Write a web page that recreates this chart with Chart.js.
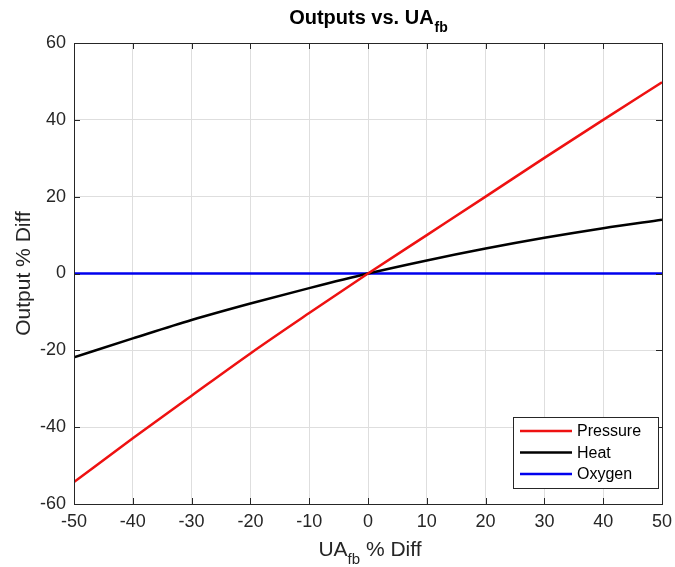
<!DOCTYPE html>
<html>
<head>
<meta charset="utf-8">
<script src="https://cdn.jsdelivr.net/npm/chart.js@4/dist/chart.umd.min.js"></script>
<style>
html,body{margin:0;padding:0;background:#fff;}
#wrap{width:675px;height:567px;position:relative;}
</style>
</head>
<body>
<div id="wrap"><canvas id="c" width="675" height="567"></canvas></div>
<script>
// ---- data ----
const uaDiff = [-50, -40, -30, -20, -10, 0, 10, 20, 30, 40, 50];
const pressure = [-54.3, -42.9, -31.8, -20.8, -10.3, 0, 10.0, 20.0, 30.1, 40.0, 49.8];
const heat = [-21.8, -16.9, -12.1, -7.8, -3.8, 0, 3.4, 6.5, 9.3, 11.8, 14.0];
const oxygen = [0, 0, 0, 0, 0, 0, 0, 0, 0, 0, 0];
const xTicks = [-50, -40, -30, -20, -10, 0, 10, 20, 30, 40, 50];
const yTicks = [-60, -40, -20, 0, 20, 40, 60];
const seriesNames = ['Pressure', 'Heat', 'Oxygen'];
const titleMain = 'Outputs vs. UA';
const titleSub = 'fb';
const xLabelMain = 'UA';
const xLabelSub = 'fb';
const xLabelRest = ' % Diff';
const yLabel = 'Output % Diff';

const FONT = '"Liberation Sans", Arial, Helvetica, sans-serif';
const INK = '#262626';

function pts(ys){ return uaDiff.map((x,i)=>({x:x,y:ys[i]})); }

const decor = {
  id:'decor',
  afterDraw(chart){
    const ctx = chart.ctx, a = chart.chartArea;
    const xs = chart.scales.x, ys = chart.scales.y;
    ctx.save();
    // box
    ctx.strokeStyle = INK; ctx.lineWidth = 1;
    ctx.strokeRect(Math.round(a.left)+0.5, Math.round(a.top)+0.5, Math.round(a.right-a.left), Math.round(a.bottom-a.top));
    // inward ticks
    ctx.beginPath();
    const tl = 6;
    xTicks.forEach(v=>{
      const px = Math.round(xs.getPixelForValue(v))+0.5;
      ctx.moveTo(px, a.bottom); ctx.lineTo(px, a.bottom - tl);
      ctx.moveTo(px, a.top); ctx.lineTo(px, a.top + tl);
    });
    yTicks.forEach(v=>{
      const py = Math.round(ys.getPixelForValue(v))+0.5;
      ctx.moveTo(a.left, py); ctx.lineTo(a.left + tl, py);
      ctx.moveTo(a.right, py); ctx.lineTo(a.right - tl, py);
    });
    ctx.stroke();

    // title with subscript
    ctx.fillStyle = '#000';
    ctx.textBaseline = 'alphabetic';
    ctx.font = 'bold 20px ' + FONT;
    const w1 = ctx.measureText(titleMain).width;
    ctx.font = 'bold 14px ' + FONT;
    const w2 = ctx.measureText(titleSub).width;
    const cx = (a.left + a.right)/2;
    let sx = cx - (w1 + w2)/2;
    ctx.font = 'bold 20px ' + FONT;
    ctx.textAlign = 'left';
    ctx.fillText(titleMain, sx, 24);
    ctx.font = 'bold 14px ' + FONT;
    ctx.fillText(titleSub, sx + w1 + 1, 32);

    // x label
    ctx.fillStyle = INK;
    ctx.font = '21px ' + FONT;
    const a1 = ctx.measureText(xLabelMain).width;
    const a3 = ctx.measureText(xLabelRest).width;
    ctx.font = '15px ' + FONT;
    const a2 = ctx.measureText(xLabelSub).width;
    let lx = cx - (a1 + a2 + a3)/2 + 2;
    ctx.font = '21px ' + FONT;
    ctx.fillText(xLabelMain, lx, 556);
    ctx.font = '15px ' + FONT;
    ctx.fillText(xLabelSub, lx + a1, 564);
    ctx.font = '21px ' + FONT;
    ctx.fillText(xLabelRest, lx + a1 + a2, 556);

    // y label
    ctx.save();
    ctx.translate(30, (a.top + a.bottom)/2);
    ctx.rotate(-Math.PI/2);
    ctx.textAlign = 'center';
    ctx.font = '21px ' + FONT;
    ctx.fillText(yLabel, 0, 0);
    ctx.restore();

    // legend
    const lx0 = 513, ly0 = 417, lw = 145, lh = 71;
    ctx.fillStyle = '#fff';
    ctx.fillRect(lx0, ly0, lw, lh);
    ctx.strokeStyle = INK; ctx.lineWidth = 1;
    ctx.strokeRect(lx0+0.5, ly0+0.5, lw, lh);
    ctx.font = '16px ' + FONT;
    ctx.textBaseline = 'middle';
    ctx.textAlign = 'left';
    chart.data.datasets.forEach((ds,i)=>{
      const yy = ly0 + 14 + i*21.5;
      ctx.strokeStyle = ds.borderColor; ctx.lineWidth = 2.5;
      ctx.beginPath(); ctx.moveTo(lx0+7, yy); ctx.lineTo(lx0+59, yy); ctx.stroke();
      ctx.fillStyle = '#000';
      ctx.fillText(ds.label, lx0+64, yy+1);
    });
    ctx.restore();
  }
};

new Chart(document.getElementById('c'), {
  type:'line',
  data:{
    datasets:[
      {label:seriesNames[0], data:pts(pressure), borderColor:'#ee1111', borderWidth:2.5, pointRadius:0, cubicInterpolationMode:'monotone'},
      {label:seriesNames[1], data:pts(heat), borderColor:'#000000', borderWidth:2.5, pointRadius:0, cubicInterpolationMode:'monotone'},
      {label:seriesNames[2], data:pts(oxygen), borderColor:'#0000ee', borderWidth:2.5, pointRadius:0}
    ]
  },
  options:{
    responsive:false,
    animation:false,
    devicePixelRatio:1,
    layout:{padding:{left:0, right:13, top:43, bottom:0}},
    plugins:{legend:{display:false}, title:{display:false}, tooltip:{enabled:false}},
    scales:{
      x:{type:'linear', min:-50, max:50,
        afterBuildTicks(s){ s.ticks = xTicks.map(v=>({value:v})); },
        afterFit(s){ s.height = 63; s.paddingLeft = 0; s.paddingRight = 0; },
        grid:{color:'#dedede', drawTicks:false},
        border:{display:false},
        ticks:{color:INK, font:{family:FONT, size:18}, padding:7, maxRotation:0}
      },
      y:{type:'linear', min:-60, max:60,
        afterBuildTicks(s){ s.ticks = yTicks.map(v=>({value:v})); },
        afterFit(s){ s.width = 74; s.paddingTop = 0; s.paddingBottom = 0; },
        grid:{color:'#dedede', drawTicks:false},
        border:{display:false},
        ticks:{color:INK, font:{family:FONT, size:18}, padding:8}
      }
    }
  },
  plugins:[decor]
});
</script>
</body>
</html>
